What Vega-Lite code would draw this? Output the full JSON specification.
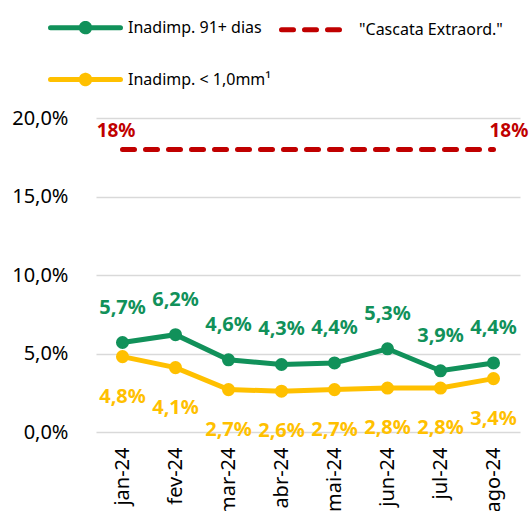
{
  "$schema": "https://vega.github.io/schema/vega-lite/v6.json",
  "width": 424,
  "height": 314,
  "autosize": {"type": "none"},
  "padding": {"left": 96, "top": 118, "right": 12, "bottom": 79},
  "config": {
    "locale": {"number": {"decimal": ",", "thousands": ".", "grouping": [3], "currency": ["", "€"]}},
    "view": {"stroke": null},
    "font": "Noto Sans"
  },
  "datasets": {
    "series": [
      {"mes": "jan-24", "serie": "Inadimp. 91+ dias", "valor": 0.057},
      {"mes": "fev-24", "serie": "Inadimp. 91+ dias", "valor": 0.062},
      {"mes": "mar-24", "serie": "Inadimp. 91+ dias", "valor": 0.046},
      {"mes": "abr-24", "serie": "Inadimp. 91+ dias", "valor": 0.043},
      {"mes": "mai-24", "serie": "Inadimp. 91+ dias", "valor": 0.044},
      {"mes": "jun-24", "serie": "Inadimp. 91+ dias", "valor": 0.053},
      {"mes": "jul-24", "serie": "Inadimp. 91+ dias", "valor": 0.039},
      {"mes": "ago-24", "serie": "Inadimp. 91+ dias", "valor": 0.044},
      {"mes": "jan-24", "serie": "Inadimp. < 1,0mm¹", "valor": 0.048},
      {"mes": "fev-24", "serie": "Inadimp. < 1,0mm¹", "valor": 0.041},
      {"mes": "mar-24", "serie": "Inadimp. < 1,0mm¹", "valor": 0.027},
      {"mes": "abr-24", "serie": "Inadimp. < 1,0mm¹", "valor": 0.026},
      {"mes": "mai-24", "serie": "Inadimp. < 1,0mm¹", "valor": 0.027},
      {"mes": "jun-24", "serie": "Inadimp. < 1,0mm¹", "valor": 0.028},
      {"mes": "jul-24", "serie": "Inadimp. < 1,0mm¹", "valor": 0.028},
      {"mes": "ago-24", "serie": "Inadimp. < 1,0mm¹", "valor": 0.034}
    ],
    "cascata": [
      {"mes": "jan-24", "serie": "\"Cascata Extraord.\"", "valor": 0.18},
      {"mes": "fev-24", "serie": "\"Cascata Extraord.\"", "valor": 0.18},
      {"mes": "mar-24", "serie": "\"Cascata Extraord.\"", "valor": 0.18},
      {"mes": "abr-24", "serie": "\"Cascata Extraord.\"", "valor": 0.18},
      {"mes": "mai-24", "serie": "\"Cascata Extraord.\"", "valor": 0.18},
      {"mes": "jun-24", "serie": "\"Cascata Extraord.\"", "valor": 0.18},
      {"mes": "jul-24", "serie": "\"Cascata Extraord.\"", "valor": 0.18},
      {"mes": "ago-24", "serie": "\"Cascata Extraord.\"", "valor": 0.18}
    ]
  },
  "encoding": {
    "x": {
      "field": "mes",
      "type": "ordinal",
      "sort": ["jan-24", "fev-24", "mar-24", "abr-24", "mai-24", "jun-24", "jul-24", "ago-24"],
      "axis": {
        "title": null,
        "labelAngle": -90,
        "labelFontSize": 20,
        "labelColor": "#000000",
        "labelPadding": 15,
        "domain": false,
        "ticks": false,
        "grid": false
      }
    },
    "y": {
      "field": "valor",
      "type": "quantitative",
      "scale": {"domain": [0, 0.2]},
      "axis": {
        "title": null,
        "values": [0, 0.05, 0.1, 0.15, 0.2],
        "format": ".1%",
        "labelFontSize": 20,
        "labelColor": "#000000",
        "labelPadding": 28,
        "domain": false,
        "ticks": false,
        "gridColor": "#d9d9d9",
        "gridWidth": 1.5
      }
    }
  },
  "layer": [
    {
      "data": {"name": "cascata"},
      "mark": {"type": "line", "strokeDash": [12, 11], "strokeWidth": 5, "strokeCap": "round"},
      "encoding": {
        "color": {
          "field": "serie",
          "type": "nominal",
          "scale": {
            "domain": ["Inadimp. 91+ dias", "\"Cascata Extraord.\"", "Inadimp. < 1,0mm¹"],
            "range": ["#11915A", "#C00000", "#FFC000"]
          },
          "legend": {
            "title": null,
            "orient": "none",
            "direction": "horizontal",
            "legendX": -48,
            "legendY": -128,
            "columns": 2,
            "columnPadding": 0,
            "rowPadding": -27,
            "symbolSize": 4900,
            "symbolStrokeWidth": 5,
            "labelFontSize": 16,
            "labelColor": "#000000",
            "labelOffset": 5,
            "labelLimit": 300,
            "encode": {
              "symbols": {
                "update": {
                  "shape": {"signal": "datum.index === 1 ? 'M -1 0 L 0.77 0' : 'M -1 0 L 1 0 M 0.12 0 A 0.12 0.12 0 1 1 -0.12 0 A 0.12 0.12 0 1 1 0.12 0 Z'"},
                  "strokeDash": {"signal": "datum.index === 1 ? [12, 11] : [1, 0]"},
                  "fill": {"signal": "datum.index === 0 ? '#11915A' : datum.index === 2 ? '#FFC000' : 'transparent'"},
                  "stroke": {"signal": "datum.index === 0 ? '#11915A' : datum.index === 2 ? '#FFC000' : '#C00000'"},
                  "strokeCap": {"value": "round"},
                  "opacity": {"value": 1}
                }
              }
            }
          }
        }
      }
    },
    {
      "data": {"name": "cascata"},
      "transform": [{"filter": "datum.mes === 'jan-24'"}],
      "mark": {"type": "text", "align": "right", "baseline": "middle", "dx": 13, "dy": -18, "fontSize": 19, "fontWeight": "bold", "color": "#C00000"},
      "encoding": {"text": {"field": "valor", "type": "quantitative", "format": ".0%"}}
    },
    {
      "data": {"name": "cascata"},
      "transform": [{"filter": "datum.mes === 'ago-24'"}],
      "mark": {"type": "text", "align": "left", "baseline": "middle", "dx": -4, "dy": -18, "fontSize": 19, "fontWeight": "bold", "color": "#C00000"},
      "encoding": {"text": {"field": "valor", "type": "quantitative", "format": ".0%"}}
    },
    {
      "data": {"name": "series"},
      "mark": {"type": "line", "strokeWidth": 5},
      "encoding": {"color": {"field": "serie", "type": "nominal"}}
    },
    {
      "data": {"name": "series"},
      "mark": {"type": "point", "filled": true, "size": 170, "opacity": 1},
      "encoding": {"color": {"field": "serie", "type": "nominal"}}
    },
    {
      "data": {"name": "series"},
      "transform": [{"filter": "datum.serie === 'Inadimp. 91+ dias'"}],
      "mark": {"type": "text", "baseline": "middle", "dy": -35, "fontSize": 20, "fontWeight": "bold", "color": "#11915A"},
      "encoding": {"text": {"field": "valor", "type": "quantitative", "format": ".1%"}}
    },
    {
      "data": {"name": "series"},
      "transform": [{"filter": "datum.serie !== 'Inadimp. 91+ dias'"}],
      "mark": {"type": "text", "baseline": "middle", "dy": 40, "fontSize": 20, "fontWeight": "bold", "color": "#FFC000"},
      "encoding": {"text": {"field": "valor", "type": "quantitative", "format": ".1%"}}
    }
  ]
}
